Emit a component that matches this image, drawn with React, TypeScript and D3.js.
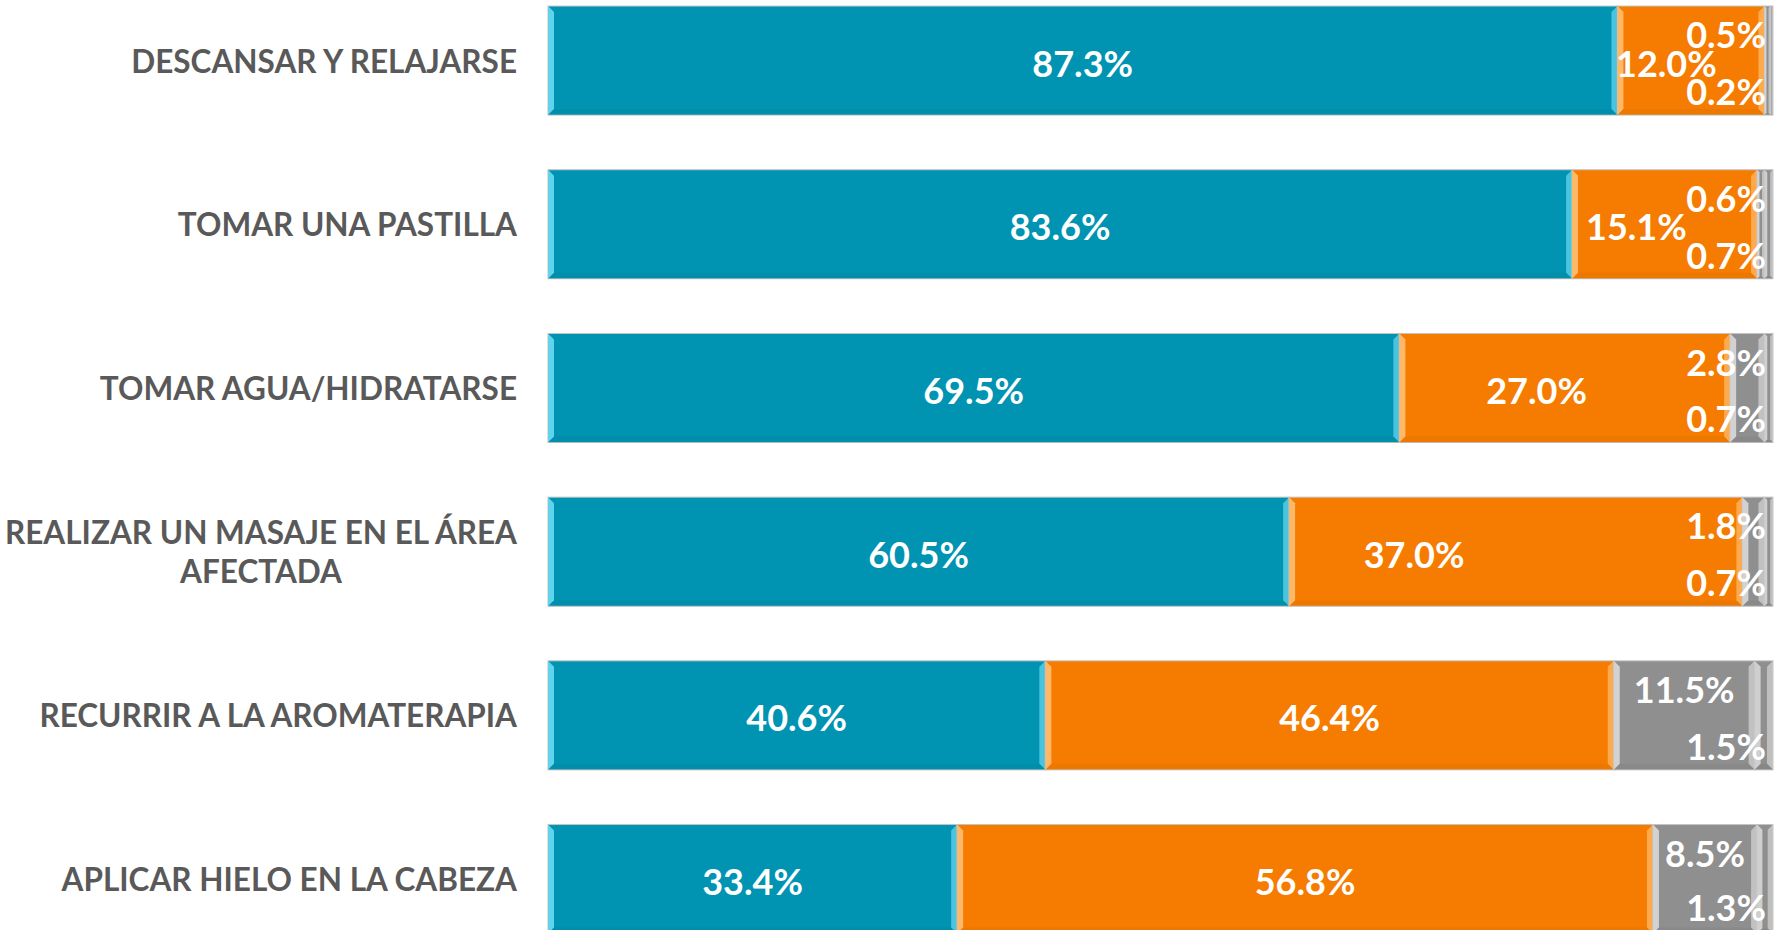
import { useEffect, useRef } from "react";
import * as d3 from "d3";

const categories = [
  "DESCANSAR Y RELAJARSE",
  "TOMAR UNA PASTILLA",
  "TOMAR AGUA/HIDRATARSE",
  "REALIZAR UN MASAJE EN EL ÁREA\nAFECTADA",
  "RECURRIR A LA AROMATERAPIA",
  "APLICAR HIELO EN LA CABEZA",
];
const serieA = [87.3, 83.6, 69.5, 60.5, 40.6, 33.4];
const serieB = [12.0, 15.1, 27.0, 37.0, 46.4, 56.8];
const serieC = [0.5, 0.6, 2.8, 1.8, 11.5, 8.5];
const serieD = [0.2, 0.7, 0.7, 0.7, 1.5, 1.3];
const keys = ["A", "B", "C", "D"];

// label nudges for the orange labels (in % units), as placed in the original
const nudgeB = [-2.0, -2.3, -2.3, -8.3, 0, 0];

const W = 1783;
const H = 930;
const FONT = "Lato, 'Open Sans', sans-serif";

const colors = {
  A: { base: "#0094b2", light: "#62d3ec", dark: "#007d97" },
  B: { base: "#f57c00", light: "#ffb867", dark: "#d96b00" },
  C: { base: "#8f8f8f", light: "#d2d2d2", dark: "#767676" },
  D: { base: "#8f8f8f", light: "#cfcfcf", dark: "#6f6f6f" },
};

const App = () => {
  const svgRef = useRef(null);

  useEffect(() => {
    const svg = d3.select(svgRef.current);
    svg.selectAll("*").remove();

    const table = categories.map((c, i) => ({
      cat: c,
      A: serieA[i],
      B: serieB[i],
      C: serieC[i],
      D: serieD[i],
    }));
    const stacked = d3.stack().keys(keys)(table);

    const x = d3.scaleLinear().domain([0, 100]).range([548, 1773]);
    const y = d3
      .scaleBand()
      .domain(d3.range(categories.length))
      .range([-21.3, 960.9])
      .paddingInner(0.334)
      .paddingOuter(0.167);
    const bh = y.bandwidth();

    // bars
    const layers = svg
      .append("g")
      .selectAll("g")
      .data(stacked)
      .enter()
      .append("g");

    layers.each(function (layer) {
      const k = layer.key;
      const col = colors[k];
      const g = d3.select(this);
      layer.forEach((d, i) => {
        const x0 = x(d[0]);
        const x1 = x(d[1]);
        const w = x1 - x0;
        const y0 = y(i);
        const b = Math.min(6, w / 3);
        g.append("rect")
          .attr("x", x0)
          .attr("y", y0)
          .attr("width", w)
          .attr("height", bh)
          .attr("fill", col.base)
          .attr("stroke", "#c4c4c4")
          .attr("stroke-width", 1);
        // left bevel
        g.append("path")
          .attr(
            "d",
            `M${x0},${y0}L${x0 + b},${y0 + b}L${x0 + b},${y0 + bh - b}L${x0},${y0 + bh}Z`
          )
          .attr("fill", col.light);
        // right bevel
        g.append("path")
          .attr(
            "d",
            `M${x1},${y0}L${x1 - b},${y0 + b}L${x1 - b},${y0 + bh - b}L${x1},${y0 + bh}Z`
          )
          .attr("fill", col.light)
          .attr("opacity", 0.75);
        // bottom darker bevel
        g.append("path")
          .attr(
            "d",
            `M${x0},${y0 + bh}L${x0 + b},${y0 + bh - b}L${x1 - b},${y0 + bh - b}L${x1},${y0 + bh}Z`
          )
          .attr("fill", col.dark)
          .attr("opacity", 0.25);
      });
    });

    // category labels
    const catG = svg.append("g");
    categories.forEach((c, i) => {
      const lines = c.split("\n");
      const cy = y(i) + bh / 2;
      const t = catG
        .append("text")
        .attr("font-family", FONT)
        .attr("font-weight", 700)
        .attr("font-size", 31.5)
        .attr("fill", "#595959");
      const lh = 39;
      const spans = lines.map((l, j) =>
        t
          .append("tspan")
          .attr("y", cy + (j - (lines.length - 1) / 2) * lh)
          .attr("dominant-baseline", "central")
          .text(l)
      );
      const widths = spans.map((s) => (s.node() as any).getComputedTextLength());
      const mw = d3.max(widths) as number;
      const right = 517;
      spans.forEach((s) => {
        s.attr("x", right - mw / 2).attr("text-anchor", "middle");
      });
    });

    // value labels
    const lab = svg
      .append("g")
      .attr("font-family", FONT)
      .attr("font-weight", 700)
      .attr("font-size", 36)
      .attr("fill", "#ffffff")
      .attr("dominant-baseline", "central");

    const fmt = (v) => `${v.toFixed(1)}%`;
    const xEnd = x(100) - 7;

    stacked.forEach((layer) => {
      layer.forEach((d, i) => {
        const v = d[1] - d[0];
        const y0 = y(i);
        const txt = lab.append("text").text(fmt(v));
        if (layer.key === "A") {
          txt.attr("x", x((d[0] + d[1]) / 2)).attr("y", y0 + bh / 2 + 2).attr("text-anchor", "middle");
        } else if (layer.key === "B") {
          txt
            .attr("x", x((d[0] + d[1]) / 2 + nudgeB[i]))
            .attr("y", y0 + bh / 2 + 2)
            .attr("text-anchor", "middle");
        } else if (layer.key === "C") {
          const tw = (txt.node() as any).getComputedTextLength();
          let cx = x((d[0] + d[1]) / 2);
          if (cx + tw / 2 > xEnd) cx = xEnd - tw / 2;
          const ty = Math.min(y0 + bh * 0.26, H - 70);
          txt.attr("x", cx).attr("y", ty).attr("text-anchor", "middle");
        } else {
          const ty = Math.min(y0 + bh * 0.78, H - 23);
          txt.attr("x", xEnd).attr("y", ty).attr("text-anchor", "end");
        }
      });
    });
  }, []);

  return (
    <div style={{ position: "fixed", left: 0, top: 0, width: W, height: H, background: "#fff" }}>
      <svg ref={svgRef} width={W} height={H} style={{ display: "block" }}></svg>
    </div>
  );
};

export default App;
